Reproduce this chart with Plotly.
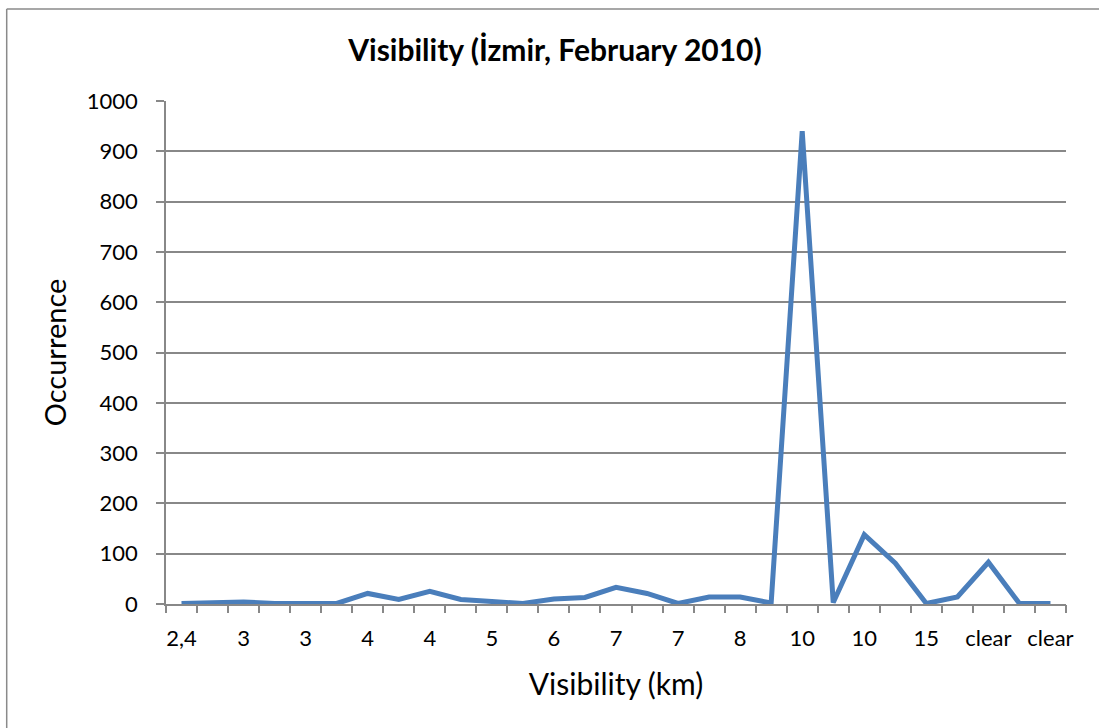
import plotly.graph_objects as go

# 29 visibility classes (only every other label is printed on the axis)
categories = ["2,4", "2,8", "3", "3", "3", "3,5", "4", "4", "4", "4,5",
              "5", "5", "6", "6", "7", "7", "7", "8", "8", "9",
              "10", "10", "10", "12", "15", "20", "clear", "clear", "clear"]
occurrence = [1, 3, 4, 1, 1, 1, 21, 9, 25, 9,
              5, 1, 10, 13, 33, 21, 1, 14, 14, 2,
              940, 3, 138, 81, 1, 14, 83, 1, 1]

positions = list(range(len(categories)))
label_positions = positions[::2]
label_texts = categories[::2]
boundaries = [p - 0.5 for p in positions] + [positions[-1] + 0.5]

y_ticks = [0, 100, 200, 300, 400, 500, 600, 700, 800, 900, 1000]

FONT = "Lato, 'Open Sans', sans-serif"
GRID = "#888888"
BORDER = "#8a8a8a"

fig = go.Figure()
fig.add_trace(go.Scatter(
    x=positions, y=occurrence, mode="lines",
    line=dict(color="#4A7EBB", width=5),
    showlegend=False, hoverinfo="skip",
))
# invisible trace to activate the boundary tick axis
fig.add_trace(go.Scatter(x=[positions[0]], y=[0], xaxis="x2", mode="markers",
                         marker=dict(opacity=0), showlegend=False, hoverinfo="skip"))

rng = [-0.5, len(categories) - 0.5]
fig.update_layout(
    width=1099, height=728,
    margin=dict(l=166, r=33, t=101, b=124),
    paper_bgcolor="white", plot_bgcolor="white",
    font=dict(family=FONT, color="black", size=22),
    title=dict(text="<b>Visibility (İzmir, February 2010)</b>",
               x=0.505, xanchor="center", y=0.931, yanchor="middle",
               font=dict(size=30, family=FONT)),
    xaxis=dict(range=rng, tickmode="array", tickvals=label_positions, ticktext=label_texts,
               ticks="", showgrid=False, zeroline=False, showline=True,
               linecolor=GRID, linewidth=1.5, ticklabelstandoff=14,
               tickfont=dict(size=22),
               title=dict(text="Visibility (km)", font=dict(size=30), standoff=24)),
    xaxis2=dict(range=rng, overlaying="x", anchor="y", side="bottom",
                tickmode="array", tickvals=boundaries, showticklabels=False,
                ticks="outside", ticklen=8, tickcolor=GRID, tickwidth=1.5,
                showgrid=False, zeroline=False, showline=False),
    yaxis=dict(range=[0, 1000], tickmode="array", tickvals=y_ticks,
               ticks="outside", ticklen=8, tickcolor=GRID, tickwidth=1.5,
               showgrid=True, gridcolor=GRID, gridwidth=1.5,
               zeroline=False, showline=True, linecolor=GRID, linewidth=1.5,
               tickfont=dict(size=22), ticklabelstandoff=14,
               title=dict(text="Occurrence", font=dict(size=29), standoff=12)),
    shapes=[
        dict(type="line", xref="paper", yref="paper",
             x0=-0.177, x1=-0.177, y0=-0.4, y1=1.183,
             line=dict(color=BORDER, width=1.5), layer="below"),
        dict(type="line", xref="paper", yref="paper",
             x0=-0.177, x1=1.3, y0=1.183, y1=1.183,
             line=dict(color=BORDER, width=1.5), layer="below"),
    ],
)

fig.write_html("out.html")
